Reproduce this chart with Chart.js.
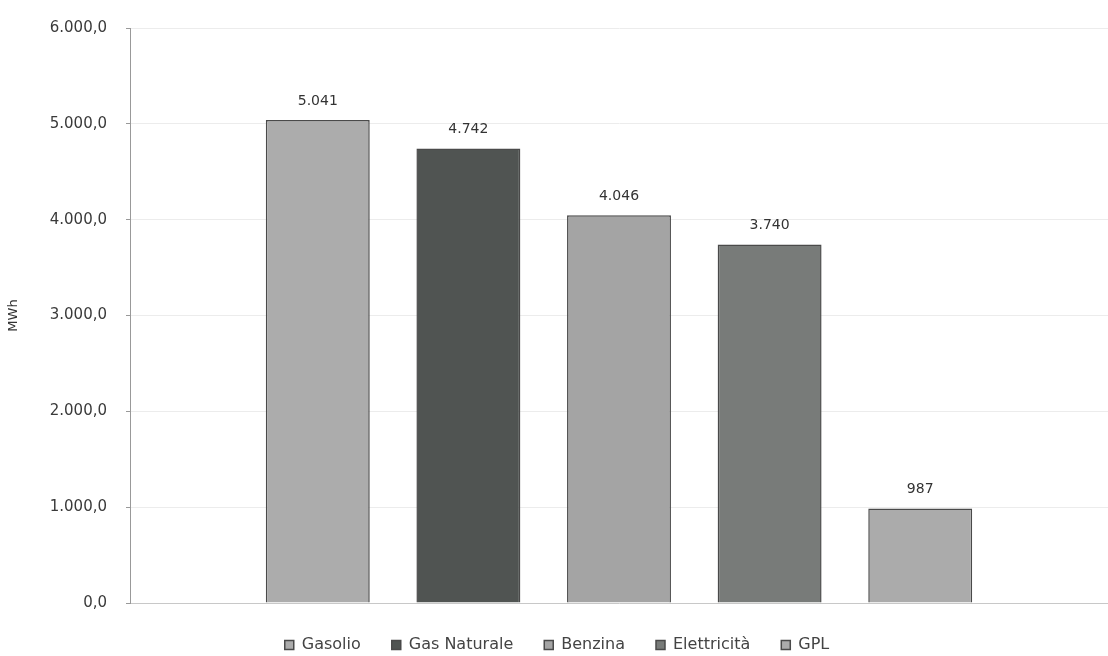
<!DOCTYPE html>
<html>
<head>
<meta charset="utf-8">
<script src="https://cdn.jsdelivr.net/npm/chart.js@4/dist/chart.umd.min.js"></script>
<style>
html,body{margin:0;padding:0;background:#fff;}
#wrap{width:1108px;height:656px;position:relative;}
</style>
</head>
<body>
<div id="wrap"><canvas id="c" width="1108" height="656"></canvas></div>
<script>
const categories = [''];
const seriesNames = ['Gasolio', 'Gas Naturale', 'Benzina', 'Elettricità', 'GPL'];
const seriesValues = [5041, 4742, 4046, 3740, 987];
const seriesColors = ['#acacac', '#505452', '#a4a4a4', '#787b79', '#ababab'];
const yTicks = [0, 1000, 2000, 3000, 4000, 5000, 6000];
const yTitle = 'MWh';
const FONT = '"DejaVu Sans", Verdana, sans-serif';

function fmtThousands(n, dec) {
  const fixed = n.toFixed(dec);
  const parts = fixed.split('.');
  const intPart = parts[0].replace(/\B(?=(\d{3})+(?!\d))/g, '.');
  return dec > 0 ? intPart + ',' + parts[1] : intPart;
}

const valueLabels = {
  id: 'valueLabels',
  afterDatasetsDraw(chart) {
    const ctx = chart.ctx;
    ctx.save();
    ctx.font = '14px ' + FONT;
    ctx.fillStyle = '#333';
    ctx.textAlign = 'center';
    ctx.textBaseline = 'bottom';
    chart.data.datasets.forEach((ds, i) => {
      const meta = chart.getDatasetMeta(i);
      meta.data.forEach((el, j) => {
        const v = ds.data[j];
        if (v == null) return;
        ctx.fillText(fmtThousands(v, 0), el.x, el.y - 12);
      });
    });
    ctx.restore();
  }
};

const datasets = seriesNames.map((name, i) => ({
  label: name,
  data: [seriesValues[i]],
  backgroundColor: seriesColors[i],
  borderColor: '#4a4a4a',
  borderWidth: 1.5,
  categoryPercentage: 0.77,
  barPercentage: 0.69
}));

new Chart(document.getElementById('c'), {
  type: 'bar',
  data: { labels: categories, datasets },
  plugins: [valueLabels],
  options: {
    responsive: false,
    animation: false,
    devicePixelRatio: 1,
    layout: { padding: { top: 26, right: 0, left: 6, bottom: -7 } },
    plugins: {
      title: { display: false },
      tooltip: { enabled: false },
      legend: {
        position: 'bottom',
        labels: {
          boxWidth: 9,
          boxHeight: 9,
          padding: 31,
          color: '#444',
          font: { size: 16, family: FONT }
        }
      }
    },
    scales: {
      x: {
        afterFit(scale) { scale.height = 3; },
        ticks: { display: false },
        grid: { display: false },
        border: { display: true, color: '#c8c8c8', width: 1 }
      },
      y: {
        min: 0,
        max: 6000,
        afterBuildTicks(scale) { scale.ticks = yTicks.map(v => ({ value: v })); },
        afterFit(scale) { scale.width = 124; },
        ticks: {
          color: '#3a3a3a',
          padding: 19,
          font: { size: 15, family: FONT },
          callback: v => fmtThousands(v, 1)
        },
        grid: { color: '#ececec', tickLength: 4, tickColor: '#999' },
        border: { display: true, color: '#999', width: 1 },
        title: {
          display: true,
          text: yTitle,
          color: '#333',
          padding: { top: 0, bottom: 10 },
          font: { size: 13, family: FONT }
        }
      }
    }
  }
});
</script>
</body>
</html>
